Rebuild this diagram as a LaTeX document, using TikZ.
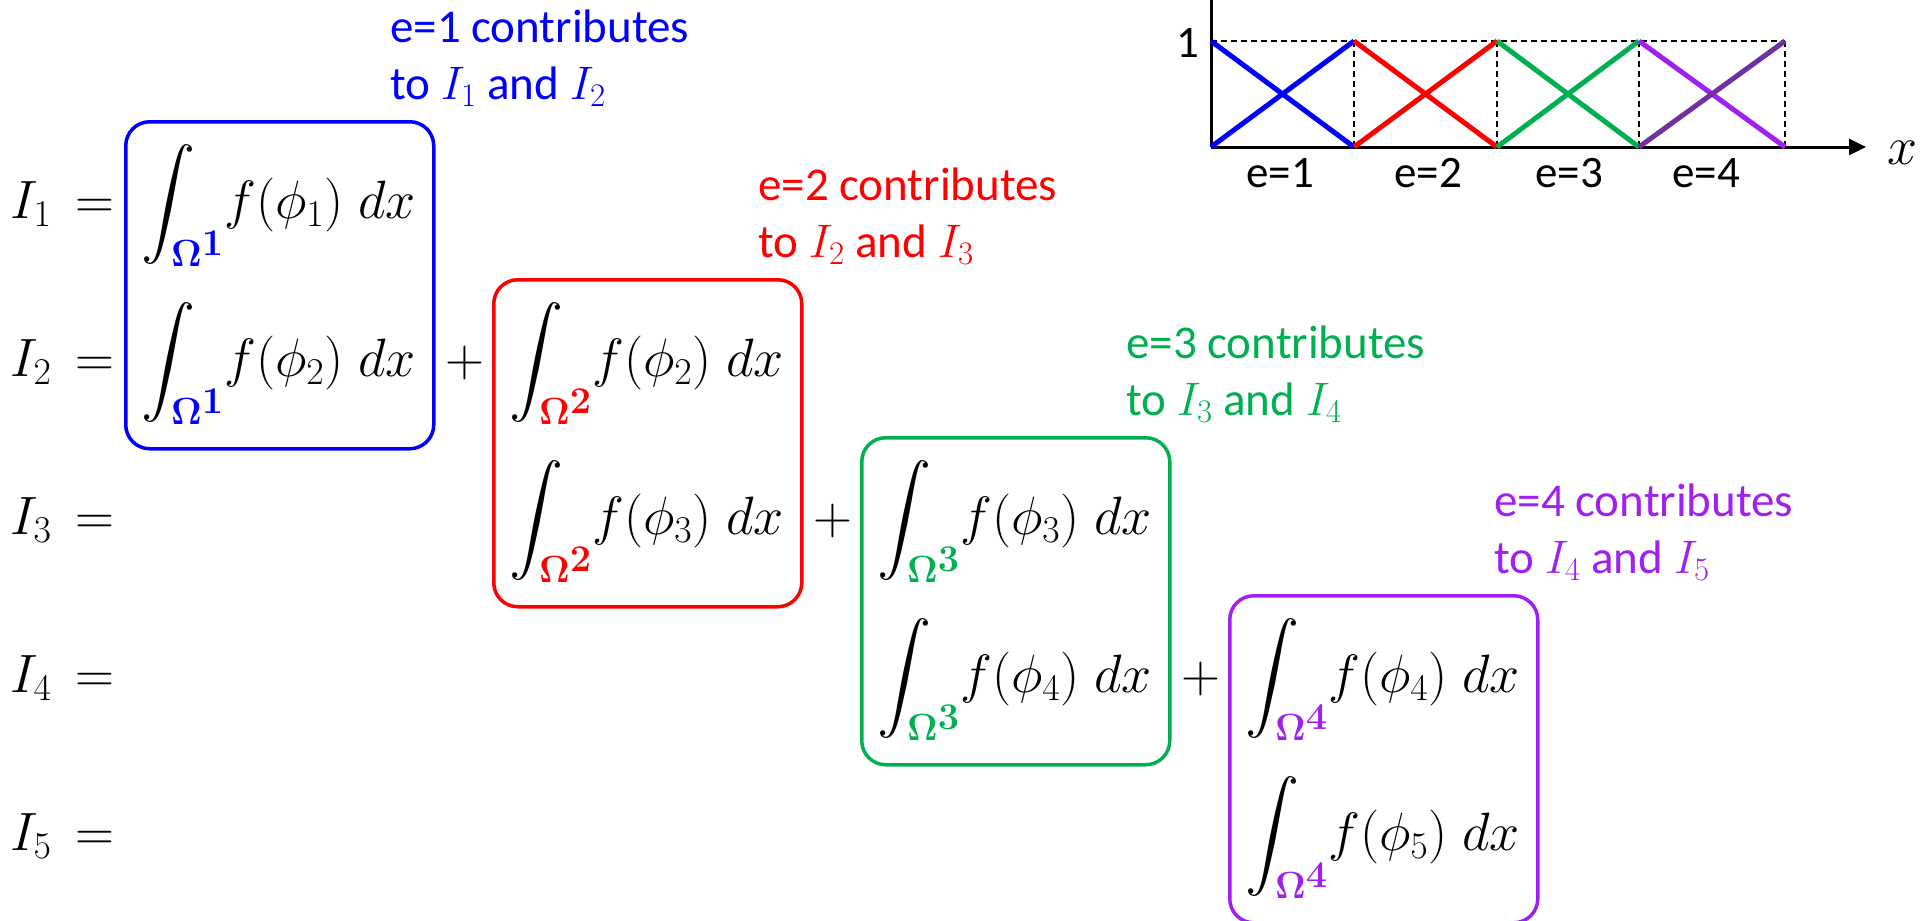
\RequirePackage{fix-cm}
\documentclass[tikz,border=0pt]{standalone}
\usepackage[no-math]{fontspec}
\setmainfont{Carlito}
\DeclareFontShape{OMX}{cmex}{m}{n}{<->cmex10}{}
\usetikzlibrary{arrows.meta}
\definecolor{eblue}{HTML}{0000FF}
\definecolor{ered}{HTML}{FF0000}
\definecolor{egreen}{HTML}{00B050}
\definecolor{epurple}{HTML}{A020F0}
\definecolor{edpurple}{HTML}{7030A0}
\newcommand\eint[3]{$\displaystyle\int_{\color{#3}\mathbf{\Omega}^{\scriptstyle\mathbf{#1}}}\!f(\phi_{#2})\;dx$}
\tikzset{
  ebox/.style={draw=#1, line width=3.5pt, rounded corners=24pt, minimum width=308pt,
    minimum height=327pt, anchor=north west, inner sep=0pt},
  mth/.style={font=\fontsize{54}{64}\selectfont, inner sep=0pt, anchor=base west},
  lbl/.style={font=\fontsize{47}{56}\selectfont, inner sep=0pt, anchor=base west, text=#1},
  glbl/.style={font=\fontsize{45}{54}\selectfont, inner sep=0pt},
  axisln/.style={line width=3pt, black},
  dsh/.style={line width=1.6pt, dash pattern=on 6pt off 4pt, black},
  fn/.style={line width=5pt, draw=#1},
}
\begin{document}
\begin{tikzpicture}[x=1pt,y=-1pt]
\useasboundingbox (0,0) rectangle (1931,921);
% left labels
\foreach \k/\r in {1/218,2/376,3/534,4/692,5/850}{
  \node[mth] (L\k) at (10,\r) {$I_{\k} \,=$};
}
% boxes
\node[ebox=eblue]   (B1) at (124,120) {};
\node[ebox=ered]    (B2) at (492,278) {};
\node[ebox=egreen]  (B3) at (860,436) {};
\node[ebox=epurple] (B4) at (1228,594) {};
% integrals
\node[mth] (J11) at (141,218) {\eint{1}{1}{eblue}};
\node[mth] (J12) at (141,376) {\eint{1}{2}{eblue}};
\node[mth] (J22) at (509,376) {\eint{2}{2}{ered}};
\node[mth] (J23) at (509,534) {\eint{2}{3}{ered}};
\node[mth] (J33) at (877,534) {\eint{3}{3}{egreen}};
\node[mth] (J34) at (877,692) {\eint{3}{4}{egreen}};
\node[mth] (J44) at (1245,692) {\eint{4}{4}{epurple}};
\node[mth] (J45) at (1245,850) {\eint{4}{5}{epurple}};
% plus signs
\node[mth, anchor=base] (P2) at (465,376) {$+$};
\node[mth, anchor=base] (P3) at (833,534) {$+$};
\node[mth, anchor=base] (P4) at (1201,692) {$+$};
% contribution labels
\node[lbl=eblue] (T1a) at (390,42) {e=1 contributes};
\node[lbl=eblue] (T1b) at (390,99) {to $I_1$ and $I_2$};
\node[lbl=ered] (T2a) at (758,200) {e=2 contributes};
\node[lbl=ered] (T2b) at (758,257) {to $I_2$ and $I_3$};
\node[lbl=egreen] (T3a) at (1126,358) {e=3 contributes};
\node[lbl=egreen] (T3b) at (1126,415) {to $I_3$ and $I_4$};
\node[lbl=epurple] (T4a) at (1494,516) {e=4 contributes};
\node[lbl=epurple] (T4b) at (1494,573) {to $I_4$ and $I_5$};
% graph
\coordinate (ytop) at (1211,0);
\coordinate (xend) at (1866,147);
\foreach \i/\x in {0/1211,1/1354,2/1497,3/1639,4/1785}{
  \coordinate (b\i) at (\x,147);
  \coordinate (t\i) at (\x,41);
}
\draw[dsh] (t0) -- (t4);
\foreach \i in {1,2,3,4}{ \draw[dsh] (t\i) -- (b\i); }
\draw[axisln] (b0) -- (ytop);
\draw[axisln,-{Triangle[length=17pt,width=16pt]}] (b0) -- (xend);
\draw[fn=eblue] (t0) -- (b1);
\draw[fn=eblue] (b0) -- (t1);
\draw[fn=ered] (t1) -- (b2);
\draw[fn=ered] (b1) -- (t2);
\draw[fn=egreen] (t2) -- (b3);
\draw[fn=egreen] (b2) -- (t3);
\draw[fn=epurple] (t3) -- (b4);
\draw[fn=edpurple] (b3) -- (t4);
\node[glbl] (one) at (1188,43) {1};
\node[font=\fontsize{54}{64}\selectfont, inner sep=0pt] (xl) at (1903,153) {$x$};
\node[glbl, anchor=base] (e1) at (1280,187) {e=1};
\node[glbl, anchor=base] (e2) at (1428,187) {e=2};
\node[glbl, anchor=base] (e3) at (1569,187) {e=3};
\node[glbl, anchor=base] (e4) at (1706,187) {e=4};
\end{tikzpicture}
\end{document}
